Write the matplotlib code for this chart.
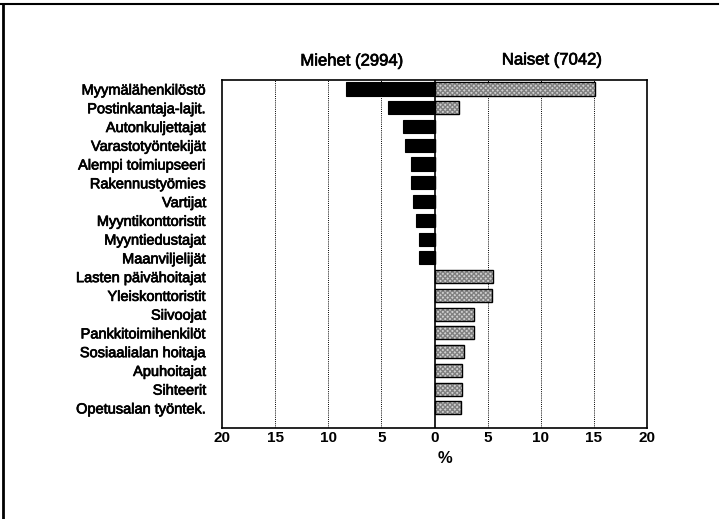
import matplotlib.pyplot as plt
import matplotlib.patheffects as pe
from matplotlib.lines import Line2D

plt.rcParams['font.family'] = ['Liberation Sans', 'DejaVu Sans']

# ammattiryhmät ylhäältä alas
ammatit = ["Myymälähenkilöstö", "Postinkantaja-lajit.", "Autonkuljettajat",
           "Varastotyöntekijät", "Alempi toimiupseeri", "Rakennustyömies",
           "Vartijat", "Myyntikonttoristit", "Myyntiedustajat", "Maanviljelijät",
           "Lasten päivähoitajat", "Yleiskonttoristit", "Siivoojat",
           "Pankkitoimihenkilöt", "Sosiaalialan hoitaja", "Apuhoitajat",
           "Sihteerit", "Opetusalan työntek."]
miehet = [8.3, 4.4, 3.0, 2.8, 2.25, 2.25, 2.0, 1.7, 1.5, 1.5,
          0, 0, 0, 0, 0, 0, 0, 0]
naiset = [15.1, 2.3, 0, 0, 0, 0, 0, 0, 0, 0,
          5.5, 5.45, 3.75, 3.75, 2.75, 2.6, 2.55, 2.45]
xticks = [-20, -15, -10, -5, 0, 5, 10, 15, 20]
xticklabels = ["20", "15", "10", "5", "0", "5", "10", "15", "20"]

thick = [pe.withStroke(linewidth=0.5, foreground='black')]

fig = plt.figure(figsize=(7.22, 5.19), dpi=100)
ax = fig.add_axes([222/722, 1 - 428/519, 425/722, 348/519])

y = list(range(len(ammatit)))
m_vals = [-v for v in miehet]

ax.barh(y, m_vals, height=0.7, color='black', edgecolor='black', linewidth=0.8, zorder=3)
ax.barh(y, naiset, height=0.7, color='#d0d0d0', edgecolor='#808080',
        hatch='xxxxxxx', linewidth=0, zorder=3)
ax.barh(y, naiset, height=0.7, color='none', edgecolor='black', linewidth=1.0, zorder=4)

ax.axvline(0, color='black', linewidth=1.2, zorder=5)
for g in [-15, -10, -5, 5, 10, 15]:
    ax.axvline(g, color='black', linewidth=0.7, linestyle=(0, (1, 1.2)), zorder=1)

ax.set_xlim(-20, 20)
ax.set_ylim(18.07, -0.48)
ax.set_yticks(y)
ax.set_yticklabels(ammatit, fontsize=10.5)
ax.set_xticks(xticks)
ax.set_xticklabels(xticklabels, fontsize=11, fontweight='bold')
ax.tick_params(axis='y', length=0, pad=11)
ax.tick_params(axis='x', length=0, pad=2)
for lab in ax.get_yticklabels():
    lab.set_path_effects(thick)
ax.set_xlabel("%", fontsize=12, fontweight='bold')
ax.xaxis.set_label_coords(0.525, -0.065)

for s in ax.spines.values():
    s.set_linewidth(1.2)

fig.text(352/722, 1 - 61/519, "Miehet (2994)", fontsize=12, ha='center', va='center',
         path_effects=thick)
fig.text(552/722, 1 - 60/519, "Naiset (7042)", fontsize=12, ha='center', va='center',
         path_effects=thick)

# kehys
fig.add_artist(Line2D([0, 718/722], [1 - 3.5/519, 1 - 3.5/519], color='black', linewidth=1.5))
fig.add_artist(Line2D([2.5/722, 2.5/722], [0, 1 - 3.5/519], color='black', linewidth=2))

plt.savefig('out.png', dpi=100)
